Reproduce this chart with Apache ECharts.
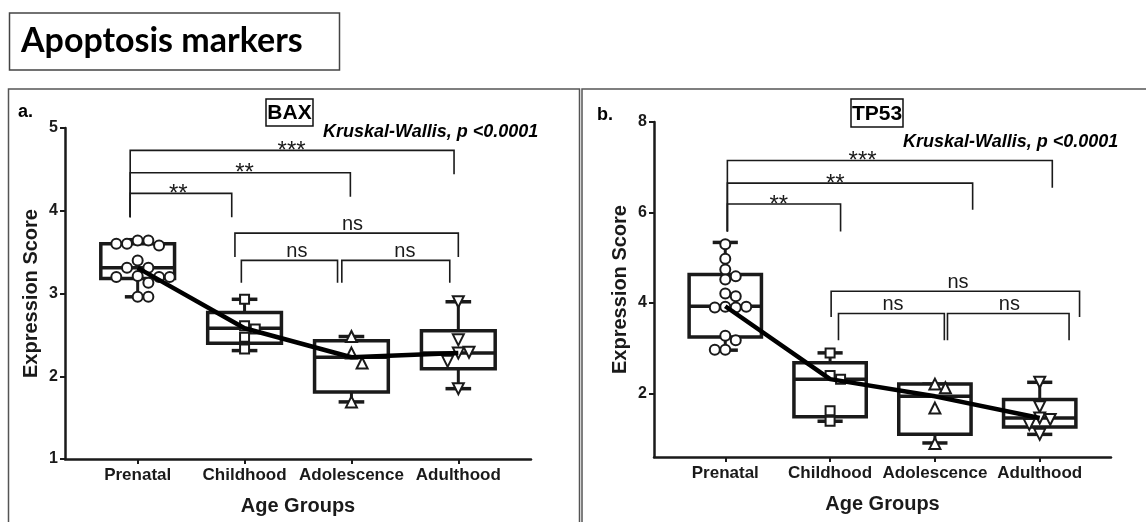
<!DOCTYPE html>
<html>
<head>
<meta charset="utf-8">
<style>
  html, body { margin: 0; padding: 0; background: #fff; }
  #chart { width: 1146px; height: 522px; }
</style>
<script src="https://cdn.jsdelivr.net/npm/echarts@6/dist/echarts.min.js"></script>
</head>
<body>
<div id="chart"></div>
<script>
// age groups on the x axis
var groups = ['Prenatal', 'Childhood', 'Adolescence', 'Adulthood'];
var symbols = ['circle', 'rect', 'triangle', 'triangle'];
var rotations = [0, 0, 0, 180];

// BAX: box stats per group [min, q1, median, q3, max]
var baxBox = [
    [2.96, 3.18, 3.31, 3.60, 3.65],
    [2.31, 2.40, 2.58, 2.77, 2.93],
    [1.69, 1.81, 2.23, 2.43, 2.48],
    [1.85, 2.09, 2.28, 2.55, 2.90]
];
// BAX: individual samples
var baxPrenatal = [3.64, 3.64, 3.60, 3.58, 3.60, 3.40, 3.31, 3.31, 3.21, 3.20, 3.20, 3.20, 3.13, 2.96, 2.96];
var baxChildhood = [2.93, 2.61, 2.57, 2.47, 2.33];
var baxAdolescence = [2.48, 2.28, 2.16, 1.69];
var baxAdulthood = [2.90, 2.44, 2.28, 2.29, 2.18, 1.85];

// TP53: box stats per group [min, q1, median, q3, max]
var tp53Box = [
    [2.96, 3.25, 3.93, 4.63, 5.34],
    [1.39, 1.49, 2.32, 2.68, 2.90],
    [0.91, 1.10, 1.94, 2.21, 2.21],
    [1.10, 1.26, 1.46, 1.87, 2.25]
];
var tp53Prenatal = [5.30, 4.98, 4.74, 4.59, 4.52, 4.21, 4.15, 3.92, 3.90, 3.90, 3.92, 3.28, 3.18, 2.97, 2.97];
var tp53Childhood = [2.90, 2.40, 2.32, 1.62, 1.39];
var tp53Adolescence = [2.21, 2.13, 1.68, 0.90];
var tp53Adulthood = [2.25, 1.71, 1.46, 1.43, 1.32, 1.10];

// significance brackets: [x from, x to, bar height, left leg end, right leg end, label x]
var baxBrackets = [
    [-0.07, 2.96, 4.73, 3.92, 4.44, 1.44],
    [-0.07, 1.99, 4.46, 3.92, 4.17, 1.00],
    [-0.07, 0.88, 4.21, 3.92, 3.92, 0.38],
    [0.91, 3.00, 3.73, 3.44, 3.44, 2.01],
    [0.97, 1.87, 3.40, 3.13, 3.13, 1.49],
    [1.91, 2.92, 3.40, 3.13, 3.13, 2.50]
];
var tp53Brackets = [
    [0.02, 3.12, 7.15, 5.58, 6.55, 1.31],
    [0.02, 2.36, 6.65, 5.58, 6.06, 1.05],
    [0.02, 1.10, 6.19, 5.58, 5.58, 0.51],
    [1.01, 3.38, 4.26, 3.69, 3.69, 2.22],
    [1.08, 2.09, 3.77, 3.18, 3.18, 1.60],
    [2.12, 3.28, 3.77, 3.18, 3.18, 2.71]
];
var bracketLabels = ['***', '**', '**', 'ns', 'ns', 'ns'];

var FONT = "'Liberation Sans', Arial, sans-serif";
var INK = '#1a1a1a';
var BOX_W = 0.69, CAP_W = 0.24;

var myChart = echarts.init(document.getElementById('chart'));

// spread points with close values sideways, like a scatter dot plot
function spread(vals, thr, step) {
    var placed = [];
    return vals.map(function (v) {
        var near = placed.filter(function (p) { return Math.abs(p.v - v) < thr; });
        var off = 0;
        for (var k = 0; k < 20; k++) {
            off = k === 0 ? 0 : (k % 2 ? 1 : -1) * Math.ceil(k / 2) * step;
            var hit = near.some(function (p) { return Math.abs(p.x - off) < step * 0.9; });
            if (!hit) break;
        }
        placed.push({ v: v, x: off });
        return off;
    });
}

function pointData(lists, thr) {
    var out = [];
    lists.forEach(function (vals, g) {
        var offs = spread(vals, thr, 0.1);
        vals.forEach(function (v, i) {
            out.push({ value: [g + offs[i], v], symbol: symbols[g], symbolRotate: rotations[g],
                symbolSize: g === 0 ? 10 : (g === 1 ? 9 : 11) });
        });
    });
    return out;
}

function boxRender(params, api) {
    var x = api.value(0), lo = api.value(1), q1 = api.value(2), md = api.value(3), q3 = api.value(4), hi = api.value(5);
    var hw = BOX_W / 2, cw = CAP_W / 2;
    var tl = api.coord([x - hw, q3]), br = api.coord([x + hw, q1]);
    var seg = function (a, b, w) {
        var p1 = api.coord(a), p2 = api.coord(b);
        return { type: 'line', shape: { x1: p1[0], y1: p1[1], x2: p2[0], y2: p2[1] },
            style: { stroke: INK, lineWidth: w } };
    };
    return {
        type: 'group',
        children: [
            seg([x, q3], [x, hi], 3),
            seg([x, q1], [x, lo], 3),
            seg([x - cw, hi], [x + cw, hi], 3.5),
            seg([x - cw, lo], [x + cw, lo], 3.5),
            { type: 'rect', shape: { x: tl[0], y: tl[1], width: br[0] - tl[0], height: br[1] - tl[1] },
              style: { fill: '#fff', stroke: INK, lineWidth: 3.5 } },
            seg([x - hw, md], [x + hw, md], 3.5)
        ]
    };
}

function bracketRender(params, api) {
    var x1 = api.value(0), x2 = api.value(1), y = api.value(2), yl = api.value(3), yr = api.value(4), tx = api.value(5);
    var a = api.coord([x1, yl]), b = api.coord([x1, y]), c = api.coord([x2, y]), d = api.coord([x2, yr]);
    var t = api.coord([tx, y]);
    var lab = bracketLabels[params.dataIndex];
    var star = lab.indexOf('*') >= 0;
    return {
        type: 'group',
        children: [
            { type: 'polyline', shape: { points: [a, b, c, d] },
              style: { fill: 'none', stroke: INK, lineWidth: 1.6 } },
            { type: 'text', x: t[0], y: t[1] + (star ? 1 : -9),
              style: { text: lab, align: 'center', verticalAlign: 'middle', fill: INK,
                       font: (star ? '24px ' : '20px ') + FONT } }
        ]
    };
}

function xAxis(grid) {
    return {
        type: 'value', gridIndex: grid, min: -0.68, max: 3.68,
        axisLine: { show: true, onZero: false, lineStyle: { color: INK, width: 2.5 } },
        axisTick: { show: true, customValues: [0, 1, 2, 3], length: 5, lineStyle: { color: INK, width: 2 } },
        axisLabel: { customValues: [0, 1, 2, 3], formatter: function (v) { return groups[Math.round(v)]; },
            color: INK, fontFamily: FONT, fontWeight: 'bold', fontSize: 17, margin: 8 },
        splitLine: { show: false },
        name: 'Age Groups', nameLocation: 'middle', nameGap: 37,
        nameTextStyle: { color: INK, fontFamily: FONT, fontWeight: 'bold', fontSize: 20 }
    };
}

function yAxis(grid, extra) {
    var ax = {
        type: 'value', gridIndex: grid,
        axisLine: { show: true, onZero: false, lineStyle: { color: INK, width: 2.5 } },
        axisTick: { show: true, length: 5, lineStyle: { color: INK, width: 2 } },
        axisLabel: { color: INK, fontFamily: FONT, fontWeight: 'bold', fontSize: 16, margin: 7 },
        splitLine: { show: false },
        name: 'Expression Score', nameLocation: 'middle', nameGap: 24,
        nameTextStyle: { color: INK, fontFamily: FONT, fontWeight: 'bold', fontSize: 20 }
    };
    return echarts.util.merge(ax, extra, true);
}

function panelSeries(idx, box, lists, thr, brackets) {
    return [
        { type: 'custom', xAxisIndex: idx, yAxisIndex: idx, renderItem: boxRender, clip: false, z: 2,
          data: box.map(function (b, i) { return [i].concat(b); }) },
        { type: 'scatter', xAxisIndex: idx, yAxisIndex: idx, z: 3,
          itemStyle: { color: '#fff', opacity: 1, borderColor: INK, borderWidth: 2 },
          data: pointData(lists, thr) },
        { type: 'line', xAxisIndex: idx, yAxisIndex: idx, z: 4, symbol: 'none',
          lineStyle: { color: '#000', width: 4.5 },
          data: box.map(function (b, i) { return [i, b[2]]; }) },
        { type: 'custom', xAxisIndex: idx, yAxisIndex: idx, renderItem: bracketRender, clip: false, z: 5,
          data: brackets }
    ];
}

var option = {
    animation: false,
    grid: [
        { left: 65, top: 128, width: 466, height: 331 },
        { left: 654, top: 122, width: 457, height: 335 }
    ],
    xAxis: [xAxis(0), xAxis(1)],
    yAxis: [
        yAxis(0, { min: 1, max: 5, interval: 1 }),
        yAxis(1, { min: 0.6, max: 8, axisLabel: { customValues: [2, 4, 6, 8] }, axisTick: { customValues: [2, 4, 6, 8] } })
    ],
    graphic: [
        // figure title and panel frames
        { type: 'rect', shape: { x: 9.5, y: 13, width: 330, height: 57 }, style: { fill: 'none', stroke: '#444', lineWidth: 1.5 } },
        { type: 'text', x: 21, y: 41, style: { text: 'Apoptosis markers', font: 'bold 34px Lato, sans-serif', fill: '#000', verticalAlign: 'middle' } },
        { type: 'rect', shape: { x: 8.5, y: 89, width: 571, height: 460 }, style: { fill: 'none', stroke: '#555', lineWidth: 1.5 } },
        { type: 'rect', shape: { x: 582, y: 89, width: 570, height: 460 }, style: { fill: 'none', stroke: '#555', lineWidth: 1.5 } },
        // panel a
        { type: 'text', x: 18, y: 112, style: { text: 'a.', font: 'bold 18px ' + FONT, fill: '#000', verticalAlign: 'middle' } },
        { type: 'rect', shape: { x: 266, y: 99, width: 47, height: 27 }, style: { fill: 'none', stroke: '#111', lineWidth: 1.5 } },
        { type: 'text', x: 289.5, y: 113, style: { text: 'BAX', font: 'bold 21px ' + FONT, fill: '#000', align: 'center', verticalAlign: 'middle' } },
        { type: 'text', x: 323, y: 132, style: { text: 'Kruskal-Wallis, p <0.0001', font: 'italic bold 18px ' + FONT, fill: '#000', verticalAlign: 'middle' } },
        // panel b
        { type: 'text', x: 597, y: 115, style: { text: 'b.', font: 'bold 18px ' + FONT, fill: '#000', verticalAlign: 'middle' } },
        { type: 'rect', shape: { x: 851, y: 99, width: 52, height: 28 }, style: { fill: 'none', stroke: '#111', lineWidth: 1.5 } },
        { type: 'text', x: 877, y: 114, style: { text: 'TP53', font: 'bold 21px ' + FONT, fill: '#000', align: 'center', verticalAlign: 'middle' } },
        { type: 'text', x: 903, y: 142, style: { text: 'Kruskal-Wallis, p <0.0001', font: 'italic bold 18px ' + FONT, fill: '#000', verticalAlign: 'middle' } }
    ],
    series: [].concat(
        panelSeries(0, baxBox, [baxPrenatal, baxChildhood, baxAdolescence, baxAdulthood], 0.12, baxBrackets),
        panelSeries(1, tp53Box, [tp53Prenatal, tp53Childhood, tp53Adolescence, tp53Adulthood], 0.22, tp53Brackets)
    )
};

myChart.setOption(option);
</script>
</body>
</html>
